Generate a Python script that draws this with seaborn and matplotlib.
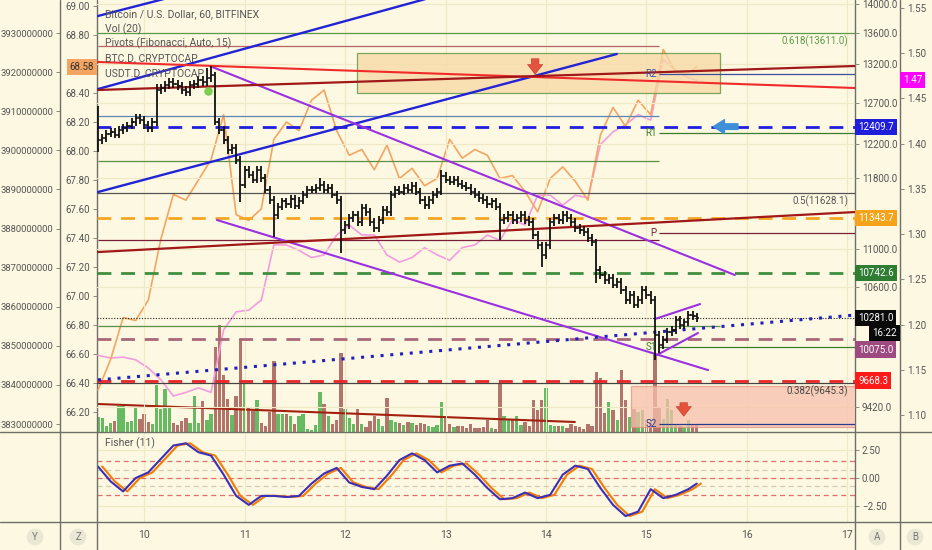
import matplotlib
matplotlib.use("Agg")
import matplotlib.pyplot as plt
import matplotlib.ticker as mticker
from matplotlib.lines import Line2D
from matplotlib.patches import Rectangle
import seaborn as sns

# BTCUSD 1h bars, index = hour from Jul 9 13:00
closes = [
    12248, 12272, 12321, 12345, 12309, 12369, 12393, 12418, 12466, 12515,
    12491, 12430, 12393, 12466, 12865, 12890, 12928, 12966, 12941, 12916,
    12865, 12840, 12928, 12941, 12992, 12966, 13016, 13055, 12466, 12369,
    12248, 12128, 12153, 12009, 11719, 11892, 11834, 11776, 11892, 11799,
    11661, 11546, 11377, 11470, 11530, 11495, 11560, 11480, 11540, 11604,
    11661, 11661, 11684, 11719, 11661, 11684, 11604, 11546, 11210, 11265,
    11343, 11377, 11299, 11455, 11410, 11299, 11232, 11321, 11433, 11410,
    11604, 11661, 11638, 11684, 11661, 11707, 11638, 11546, 11489, 11546,
    11604, 11638, 11822, 11776, 11753, 11776, 11730, 11707, 11684, 11638,
    11604, 11569, 11546, 11500, 11530, 11470, 11321, 11343, 11377, 11321,
    11343, 11377, 11321, 11299, 11155, 11045, 10938, 11045, 11299, 11343,
    11321, 11377, 11343, 11299, 11232, 11210, 11188, 11122, 11078, 10778,
    10725, 10673, 10694, 10621, 10652, 10568, 10465, 10516, 10414, 10465,
    10568, 10516, 10465, 10111, 10012, 10062, 10141, 10161, 10261, 10210,
    10240, 10312, 10300, 10281,
]
first_open = 12200
bar_highs = {0: 12660, 14: 12935, 26: 13150, 27: 13170, 28: 13090, 53: 11800, 82: 11890}
bar_lows = {0: 12105, 28: 12430, 34: 11523, 42: 11133, 58: 10960, 96: 11100,
            106: 10810, 119: 10641, 133: 9866, 134: 9930}
volumes = [
    150, 140, 60, 90, 110, 260, 260, 100, 110, 250,
    130, 180, 100, 80, 470, 230, 430, 250, 90, 70,
    110, 140, 90, 360, 90, 310, 120, 180, 850, 1070,
    570, 330, 170, 360, 930, 490, 250, 210, 320, 90,
    60, 200, 710, 180, 180, 180, 160, 80, 160, 180,
    30, 20, 70, 400, 280, 160, 80, 120, 790, 230,
    140, 80, 230, 80, 50, 110, 160, 130, 60, 340,
    120, 100, 90, 70, 100, 90, 70, 90, 80, 60,
    50, 70, 300, 160, 80, 50, 60, 60, 40, 80,
    40, 40, 50, 120, 40, 30, 490, 160, 130, 120,
    160, 70, 100, 60, 320, 220, 320, 440, 70, 60,
    60, 60, 40, 80, 60, 50, 30, 80, 60, 600,
    540, 190, 300, 220, 120, 620, 320, 150, 230, 200,
    220, 130, 100, 780, 250, 130, 330, 220, 70, 60,
    50, 120, 80, 80,
]

# dominance + fisher sampled every 3 hours
sample_hours = list(range(0, 142, 3)) + [143]
btc_d = [66.35, 66.56, 66.85, 66.83, 66.97, 67.39, 67.70, 67.66, 67.80, 67.94,
         68.25, 67.56, 67.52, 67.60, 68.08, 68.20, 68.14, 68.35, 68.42, 68.14,
         67.97, 68.01, 67.87, 68.04, 67.81, 67.88, 67.76, 67.81, 68.08, 67.95,
         68.01, 67.97, 67.81, 67.83, 67.72, 67.58, 67.81, 67.89, 67.79, 67.66,
         68.11, 68.30, 68.17, 68.35, 68.25, 68.70, 68.54, 68.54, 68.58]
usdt_d = [1.166, 1.163, 1.164, 1.161, 1.152, 1.139, 1.121, 1.125, 1.130, 1.125,
          1.194, 1.214, 1.216, 1.227, 1.288, 1.288, 1.282, 1.274, 1.277, 1.299,
          1.310, 1.299, 1.299, 1.277, 1.269, 1.274, 1.285, 1.277, 1.271, 1.285,
          1.288, 1.299, 1.293, 1.316, 1.310, 1.343, 1.343, 1.332, 1.343, 1.340,
          1.399, 1.413, 1.421, 1.432, 1.426, 1.493, 1.481, 1.473, 1.470]
fisher = [1.03, -0.3, -1.2, 0.0, 0.5, 1.7, 2.9, 3.1, 2.3, 2.0,
          0.3, -1.6, -2.4, -1.6, -1.6, -1.7, -1.6, -0.5, 0.4, 0.9,
          -0.4, -0.8, -1.0, 0.2, 1.6, 2.2, 1.6, 0.5, 1.1, 1.3,
          0.3, -0.9, -1.9, -1.8, -1.3, -1.8, -1.5, 0.3, 1.1, 0.8,
          -0.9, -2.4, -3.4, -3.0, -1.0, -1.8, -1.5, -1.0, -0.5]

day_ticks = [11, 35, 59, 83, 107, 131, 155, 179]
day_labels = ["10", "11", "12", "13", "14", "15", "16", "17"]
price_ticks = [14000, 13600, 13200, 12700, 12200, 11800, 11000, 10600, 9420]
btcd_ticks = [69.0, 68.8, 68.4, 68.2, 68.0, 67.8, 67.6, 67.4, 67.2, 67.0, 66.8, 66.6, 66.4, 66.2]
usdtd_ticks = [1.55, 1.50, 1.45, 1.40, 1.35, 1.30, 1.25, 1.20, 1.15, 1.10]
cap_ticks = [3930000000, 3920000000, 3910000000, 3900000000, 3890000000, 3880000000,
             3870000000, 3860000000, 3850000000, 3840000000, 3830000000]

# drawings: (hour0, price0, hour1, price1)
blue_trends = [(0, 13836, 20, 14133), (0, 12877, 80, 14097), (0, 11637, 123.9, 13328)]
purple_trends = [(26.7, 13172, 152.1, 10725), (28.4, 11321, 145.7, 9768),
                 (133.0, 10271, 143.8, 10423), (133.5, 9914, 143.3, 10131)]
red_trend = (0, 13224, 180.8, 12890)
maroon_trends = [(0, 12865, 180.8, 13172), (0, 10970, 180.8, 11410)]
dotted_trend = (0, 9674, 180.8, 10311)
vol_trend = (0, 280, 113.9, 100)
fib_levels = [13611.0, 11628.1, 9645.3]
fib_names = ["0.618", "0.5", "0.382"]
prev_pivots = [13434, 12540, 11998, 11100, 10200]
pivot_names = ["R2", "R1", "P", "S1", "S2"]
pivot_values = [13069, 12333, 11178, 9992, 9264]
alert_levels = [12409.7, 11343.7, 10742.6, 10075.0, 9668.3]
last_close = 10281.0
zone_box = (61.85, 12827, 148.5, 13341)
low_box = (127.4, 9237, 181, 9615)

sns.set_style("white")
plt.rcParams["font.family"] = ["Roboto", "DejaVu Sans"]

W, H = 932, 550
BG = "#fcf8e1"
TXT = "#555555"
XL = (-0.24, 180.8)


def rect(x0, y0, x1, y1):
    return [x0 / W, 1 - y1 / H, (x1 - x0) / W, (y1 - y0) / H]


fig = plt.figure(figsize=(W / 100, H / 100), dpi=100, facecolor=BG)
ax = fig.add_axes(rect(97, 0, 855, 432))
ax_v = ax.twinx()
ax_b = ax.twinx()
ax_z = ax.twinx()
ax_y = ax.twinx()
axf = fig.add_axes(rect(97, 432, 855, 522))
ax.set_zorder(10)
ax.patch.set_visible(False)
axf.set_facecolor(BG)
ax_v.set_zorder(1)
ax_b.set_zorder(2)
ax_z.set_zorder(3)
ax_y.set_zorder(0)

for a in (ax, ax_v, ax_b, ax_z, ax_y, axf):
    for s in a.spines.values():
        s.set_visible(False)
    a.set_xlim(*XL)
    a.tick_params(length=3, width=0.7, color="#8a8a80", labelcolor=TXT, labelsize=7, pad=2)

# price axis (A)
ax.set_yscale("log")
ax.set_ylim(9191, 14055)
ax.yaxis.set_major_locator(mticker.FixedLocator(price_ticks))
ax.yaxis.set_major_formatter(mticker.FuncFormatter(lambda v, _: f"{v:.1f}"))
ax.yaxis.set_minor_locator(mticker.NullLocator())
ax.yaxis.set_minor_formatter(mticker.NullFormatter())
ax.yaxis.set_ticks_position("right")
ax.set_xticks(day_ticks)
ax.tick_params(axis="x", labelbottom=False, length=0)
ax.grid(True, color="#f0e9c8", lw=0.8, zorder=0)

# other scales
ax_z.set_ylim(66.0606, 69.0414)
ax_z.set_yticks(btcd_ticks)
ax_z.yaxis.set_major_formatter(mticker.FormatStrFormatter("%.2f"))
ax_z.yaxis.set_ticks_position("left")
ax_z.tick_params(axis="x", length=0, labelbottom=False)

ax_y.set_ylim(3827954000, 3938439900)
ax_y.set_yticks(cap_ticks)
ax_y.yaxis.set_major_formatter(mticker.FormatStrFormatter("%d"))
ax_y.yaxis.set_ticks_position("left")
ax_y.spines["left"].set_position(("axes", -37 / 758))
ax_y.tick_params(axis="y", labelsize=6.8)
ax_y.tick_params(axis="x", length=0, labelbottom=False)

ax_b.set_ylim(1.0812, 1.5588)
ax_b.set_yticks(usdtd_ticks)
ax_b.yaxis.set_major_formatter(mticker.FormatStrFormatter("%.2f"))
ax_b.spines["right"].set_position(("axes", 803 / 758))
ax_b.tick_params(axis="x", length=0, labelbottom=False)

ax_v.set_ylim(0, 4320)
ax_v.set_axis_off()

hours = list(range(len(closes)))
opens = [first_open] + closes[:-1]
up = [c >= o for o, c in zip(opens, closes)]

# volume
ax_v.bar(hours, volumes, width=0.8, color=["#66bb62" if u else "#b3746b" for u in up], lw=0)
ax_v.plot([vol_trend[0], vol_trend[2]], [vol_trend[1], vol_trend[3]], color="#a3200f", lw=1.5)

# dominance lines
sns.lineplot(x=sample_hours, y=usdt_d, ax=ax_b, color="#f39ce0", lw=1.2)
sns.lineplot(x=sample_hours, y=btc_d, ax=ax_z, color="#f4a562", lw=1.2)
for a in (ax_b, ax_z):
    a.set_xlabel("")
    a.set_ylabel("")

# zones
for (h0, p0, h1, p1), fc, ec in ((zone_box, "#f8d9a4", "#4f8f3a"), (low_box, "#f7c1ad", "#e58f80")):
    ax.add_patch(Rectangle((h0, p0), h1 - h0, p1 - p0, fc=fc, ec=ec, lw=0.9, alpha=0.75, zorder=1))

# horizontal levels
for p, name, col in zip(fib_levels, fib_names, ["#5c9a4c", "#555555", "#444444"]):
    ax.axhline(p, color=col, lw=0.9, zorder=2)
    ax.annotate(f"{name}({p:.1f})", xy=(0.991, p), xycoords=ax.get_yaxis_transform(),
                xytext=(0, -2), textcoords="offset points", ha="right", va="top",
                fontsize=7, color=col, zorder=8)
pivot_start = 134
prev_cols = ["#b46464", "#5d86b5", "#5a8f45", "#7a1f3a", "#5a8f45"]
for p, col in zip(prev_pivots, prev_cols):
    end = 148.5 if p == prev_pivots[-1] else pivot_start
    ax.hlines(p, 0, end, color=col, lw=0.9, zorder=2)
now_cols = ["#3c4fa0", "#3d7d2e", "#7a1f3a", "#3d7d2e", "#2a3a8a"]
for p, name, col in zip(pivot_values, pivot_names, now_cols):
    ax.hlines(p, pivot_start, XL[1], color=col, lw=0.9, zorder=2)
    ax.text(pivot_start - 0.6, p, name, ha="right", va="center", fontsize=7, color=col, zorder=8)

alert_cols = ["#1f1fe0", "#f5a623", "#3f8f3f", "#a8687a", "#e8262a"]
for p, col in zip(alert_levels, alert_cols):
    ax.axhline(p, color=col, lw=2, ls=(0, (5, 3.5)), zorder=3)
ax.axhline(last_close, color="#222222", lw=0.8, ls=(0, (1, 1.5)), zorder=3)

# trend lines
for h0, p0, h1, p1 in blue_trends:
    ax.plot([h0, h1], [p0, p1], color="#2323d6", lw=1.7, zorder=4)
for h0, p0, h1, p1 in purple_trends:
    ax.plot([h0, h1], [p0, p1], color="#9b30e0", lw=1.5, zorder=4)
ax.plot([red_trend[0], red_trend[2]], [red_trend[1], red_trend[3]], color="#f02a2a", lw=1.5, zorder=4)
for h0, p0, h1, p1 in maroon_trends:
    ax.plot([h0, h1], [p0, p1], color="#a01818", lw=1.6, zorder=4)
ax.plot([dotted_trend[0], dotted_trend[2]], [dotted_trend[1], dotted_trend[3]],
        color="#2020c0", lw=2.2, ls=(0, (1, 2.2)), zorder=4)

# OHLC bars
highs = [bar_highs.get(i, max(o, c) * 1.0035) for i, (o, c) in enumerate(zip(opens, closes))]
lows = [bar_lows.get(i, min(o, c) / 1.0035) for i, (o, c) in enumerate(zip(opens, closes))]
ax.vlines(hours, lows, highs, color="#111111", lw=1.3, zorder=6)
ax.hlines(opens, [h - 0.55 for h in hours], hours, color="#111111", lw=1.1, zorder=6)
ax.hlines(closes, hours, [h + 0.55 for h in hours], color="#111111", lw=1.1, zorder=6)

# markers
arrow_red = dict(arrowstyle="simple,head_width=1.1,head_length=0.7,tail_width=0.55",
                 fc="#e5533d", ec="#c0392b", lw=0.4)
ax.annotate("", xy=(104.4, 13030), xytext=(104.4, 13302), arrowprops=arrow_red, zorder=9)
ax.annotate("", xy=(139.9, 9309), xytext=(139.9, 9485), arrowprops=arrow_red, zorder=9)
ax.annotate("", xy=(146.3, 12409.7), xytext=(153.5, 12409.7), zorder=9,
            arrowprops=dict(arrowstyle="simple,head_width=1.0,head_length=0.8,tail_width=0.4",
                            fc="#3f8fd8", ec="#3f8fd8"))
ax.scatter([26.3], [12852], s=26, color="#7ccf4f", zorder=9)


def tag(a, x, y, text, bg, ha="left", fg="white"):
    a.text(x, y, text, transform=a.get_yaxis_transform(), ha=ha, va="center", fontsize=7,
           color=fg, clip_on=False, zorder=20,
           bbox=dict(boxstyle="square,pad=0.32", fc=bg, ec="none"))


ax_right = 1 + 3 / 758
tag(ax, ax_right, 12409.7, "12409.7", "#1f1fdb")
tag(ax, ax_right, 11343.7, "11343.7", "#f5a31a")
tag(ax, ax_right, 10742.6, "10742.6", "#2e7d32")
tag(ax, ax_right, 10281.0, "10281.0", "#0a0a0a")
tag(ax, 800 / 758, 10131, "16:22", "#0a0a0a", ha="right")
tag(ax, ax_right, 9967, "10075.0", "#9c4a80")
tag(ax, ax_right, 9668.3, "9668.3", "#ff1a1a")
tag(ax_b, 806 / 758, 1.47, "1.47", "#ff00ff")
tag(ax_z, -3 / 758, 68.58, "68.58", "#f4a562", ha="right", fg="#333333")

# fisher pane
axf.set_ylim(-3.93, 4.107)
for lvl, col in ((1.5, "#e07070"), (0.75, "#d4ccb4"), (0, "#e07070"), (-0.75, "#d4ccb4"), (-1.5, "#e07070")):
    axf.axhline(lvl, color=col, lw=0.9, ls=(0, (4, 3)))
sns.lineplot(x=[h + 1 for h in sample_hours], y=fisher, ax=axf, color="#f57c00", lw=1.5)
sns.lineplot(x=sample_hours, y=fisher, ax=axf, color="#3b2fb8", lw=1.5)
axf.set_xlabel("")
axf.set_ylabel("")
axf.set_yticks([2.5, 0, -2.5])
axf.set_yticklabels(["2.50", "0.00", "\u22122.50"])
axf.yaxis.set_ticks_position("right")
axf.set_xticks(day_ticks)
axf.set_xticklabels(day_labels)
axf.tick_params(axis="x", labelsize=7.5, pad=3)
axf.grid(True, color="#f0e9c8", lw=0.8)
axf.text(8 / 758, 0.84, "Fisher (11)", transform=axf.transAxes, fontsize=7.5, color=TXT)

# legend lines
for i, s in enumerate(["Bitcoin / U.S. Dollar, 60, BITFINEX", "Vol (20)", "Pivots (Fibonacci, Auto, 15)",
                       "BTC.D, CRYPTOCAP", "USDT.D, CRYPTOCAP"]):
    fig.text(105 / W, 1 - (14 + 14.8 * i) / H, s, fontsize=7.5, color=TXT, va="center", zorder=30)

# pane separators
sep = "#6f6f68"
for x in (60, 97, 855, 900):
    fig.add_artist(Line2D([x / W, x / W], [0, 1], color=sep, lw=1))
for y in (432, 522):
    fig.add_artist(Line2D([0, 1], [1 - y / H, 1 - y / H], color=sep, lw=1))
for x, s in ((35, "Y"), (78, "Z"), (877, "A"), (915, "B")):
    fig.text(x / W, 1 - 537 / H, s, ha="center", va="center", fontsize=7, color="#777777",
             bbox=dict(boxstyle="circle,pad=0.35", fc="#ebe7d5", ec="none"))

fig.savefig("out.png", dpi=100, facecolor=BG)
